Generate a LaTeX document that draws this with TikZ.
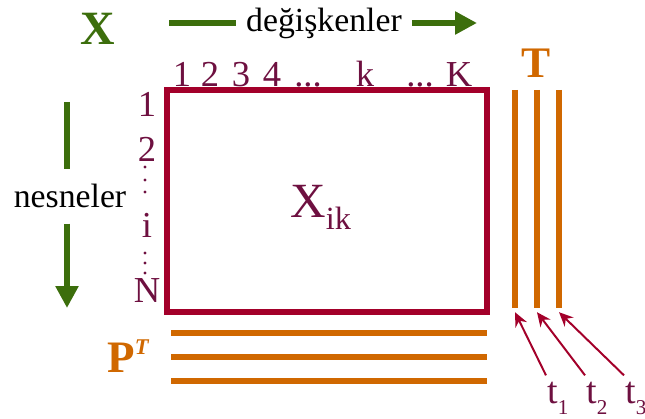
\documentclass[tikz,border=0pt]{standalone}
\usepackage{fontspec}
\setmainfont{Liberation Serif}
\usetikzlibrary{arrows.meta,positioning,calc}
\definecolor{grn}{HTML}{3C6E0C}
\definecolor{matred}{HTML}{A3002A}
\definecolor{idx}{HTML}{6E1040}
\definecolor{ora}{HTML}{D06800}

\begin{document}
\begin{tikzpicture}[x=0.025cm, y=-0.025cm,
  idxlbl/.style={text=idx, font=\fontsize{26}{30}\selectfont, inner sep=0pt, anchor=base},
  axlbl/.style={font=\fontsize{24}{28}\selectfont, inner xsep=7pt, inner ysep=10.7pt, anchor=base},
  gline/.style={draw=grn, line width=4.3pt},
  garrow/.style={gline, -{Triangle[length=15.5pt, width=15.5pt]}},
  oline/.style={draw=ora, line width=4.3pt},
  tarrow/.style={draw=matred, line width=1.4pt, -{Stealth[length=10pt, width=9pt]}}]
  \useasboundingbox (0,0) rectangle (645,419);

  % the data matrix
  \node[text=grn, font=\fontsize{34}{34}\selectfont\bfseries, inner sep=0pt, anchor=base] (xname) at (98,45) {X};
  \draw[draw=matred, line width=4.3pt] (167,90) rectangle (487,312);
  \node[text=idx, font=\fontsize{35}{35}\selectfont, inner sep=0pt, anchor=base west] (xik) at (290,218)
    {X\raisebox{-8pt}{\fontsize{23}{23}\selectfont ik}};

  % variables
  \node[axlbl] (vars) at (324,32) {değişkenler};
  \coordinate (hs) at (169,23);
  \coordinate (he) at (477,23);
  \draw[gline] (hs) -- (hs -| vars.west);
  \draw[garrow] (he -| vars.east) -- (he);
  \foreach \x/\s [count=\i] in {182/1,210/2,241/3,272/4,308/{...},365/k,420/{...},459/K}
    \node[idxlbl] (c\i) at (\x,87) {\s};

  % objects
  \node[axlbl] (objs) at (70,208) {nesneler};
  \coordinate (vs) at (67,102);
  \coordinate (ve) at (67,308);
  \draw[gline] (vs) -- (vs |- objs.north);
  \draw[garrow] (vs |- objs.south) -- (ve);
  \foreach \y/\s in {117/1,162/2,238/i,303/N}
    \node[idxlbl] (r\s) at (147,\y) {\s};
  \foreach \y in {167,180,192,253,263,273}
    \fill[idx] (145,\y) circle (1.7);

  % scores T
  \node[text=ora, font=\fontsize{31}{31}\selectfont\bfseries, inner sep=0pt, anchor=base] (tname) at (536,78) {T};
  \foreach \x/\n in {515/1,537/2,559/3} {
    \draw[oline] (\x,90) -- (\x,308) coordinate (b\n);
    \node[text=idx, font=\fontsize{27}{30}\selectfont, inner sep=0pt, anchor=base west] (t\n) at (508+39*\n,403)
      {t\raisebox{-8.5pt}{\fontsize{15}{15}\selectfont \n}};
    \draw[tarrow] ([shift={(-1,-6)}]t\n.north west) -- ([yshift=-3pt]b\n);
  }

  % loadings P^T
  \node[text=ora, font=\fontsize{32}{32}\selectfont\bfseries, inner sep=0pt, anchor=base west] (pname) at (107,373)
    {P\raisebox{13pt}{\fontsize{16}{16}\selectfont\itshape T}};
  \foreach \y in {333,357,381}
    \draw[oline] (171,\y) -- (487,\y);
\end{tikzpicture}
\end{document}
